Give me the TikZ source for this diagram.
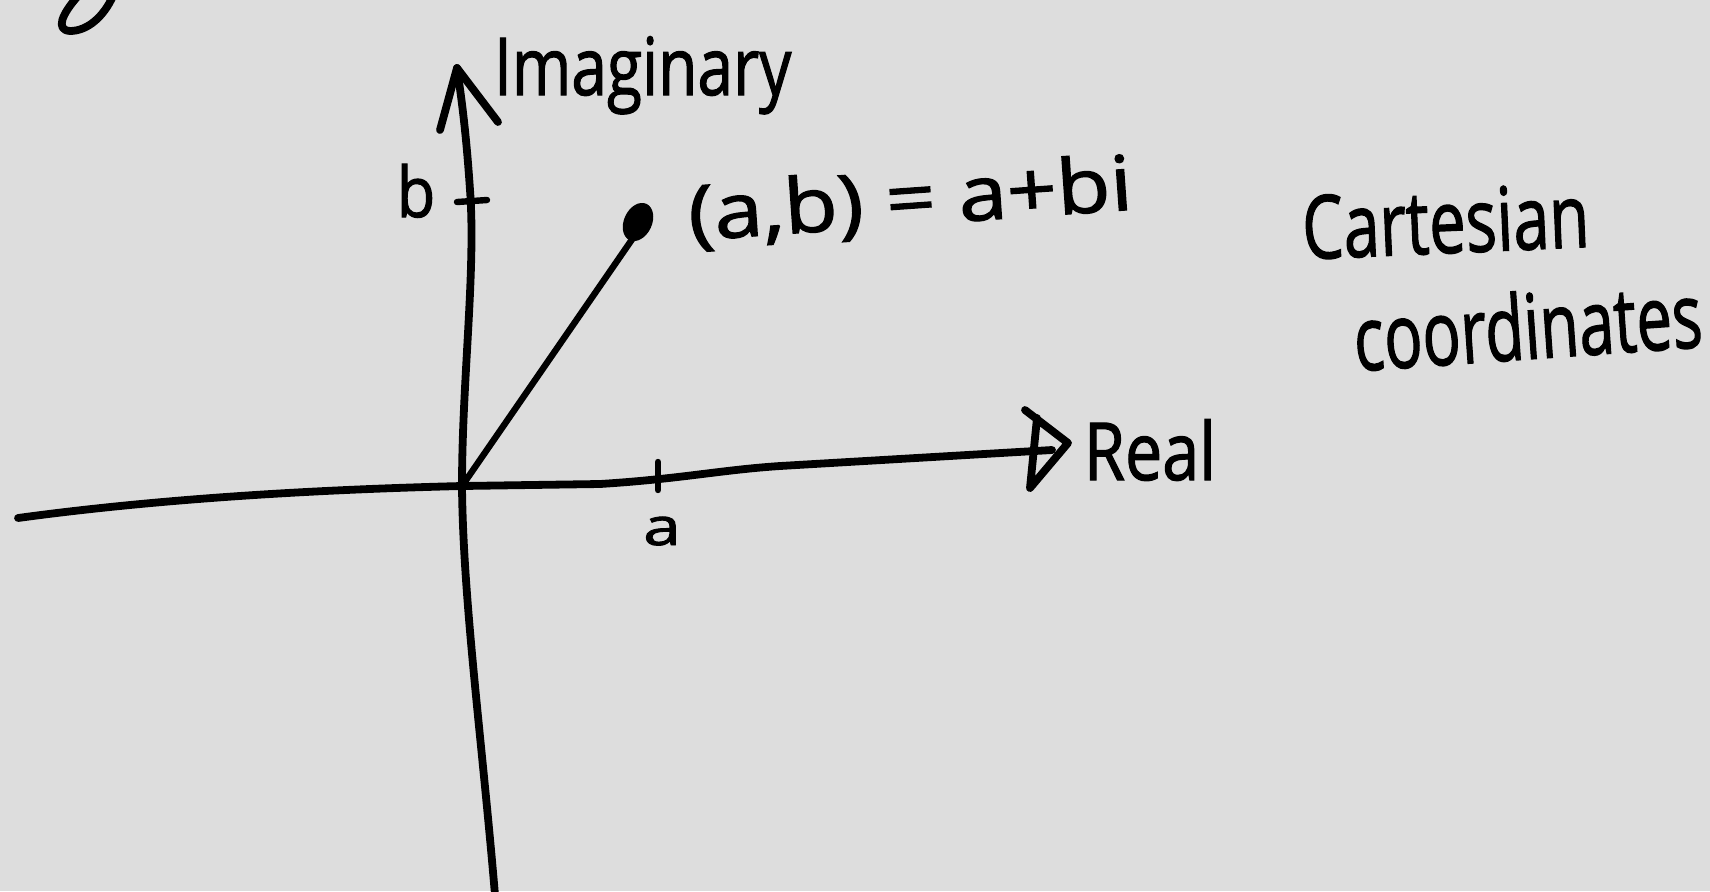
\documentclass[tikz,border=0pt]{standalone}
\usepackage{graphicx}
\usepackage{fontspec}
\setmainfont{Open Sans}[FakeBold=1.6]
\definecolor{paper}{RGB}{221,221,221}
\begin{document}
\begin{tikzpicture}[x=0.5pt,y=-0.5pt,
  pen/.style={line width=3.9pt, line cap=round, line join=round, draw=black},
  thinpen/.style={line width=3.2pt, line cap=round, line join=round, draw=black},
  hand/.style={inner sep=0pt, outer sep=0pt, text=black}]
\fill[paper] (0,0) rectangle (1710,891);
\useasboundingbox (0,0) rectangle (1710,891);

% named points
\coordinate (O) at (462,486);
\coordinate (ytip) at (457,68);
\coordinate (ybot) at (495,895);
\coordinate (ybl) at (440,130);
\coordinate (ybr) at (498,122);
\coordinate (xleft) at (18,518);
\coordinate (xtip) at (1052,450);
\coordinate (xt1) at (1025,410);
\coordinate (xt2) at (1068,443);
\coordinate (xt3) at (1030,488);
\coordinate (xt4) at (1037,418);
\coordinate (P) at (633,238);
\coordinate (ta1) at (658,462);
\coordinate (ta2) at (658,490);
\coordinate (tb1) at (457,202);
\coordinate (tb2) at (487,200);

% stray stroke at top-left
\draw[pen] (78,-4) .. controls (62,14) and (55,30) .. (70,31) .. controls (88,31) and (104,16) .. (113,-4);

% imaginary axis
\draw[pen] (ybot) .. controls (482,740) and (463,600) .. (O)
  .. controls (462,380) and (476,270) .. (470,190)
  .. controls (466,130) and (461,95) .. (ytip);
\draw[pen] (ybl) -- (ytip) -- (ybr);

% real axis
\draw[pen] (xleft) .. controls (150,500) and (300,490) .. (O)
  -- (600,484) .. controls (680,479) and (720,470) .. (780,466) -- (xtip);
\draw[pen] (xt1) -- (xt2) -- (xt3) -- (xt4);

% ticks
\draw[thinpen] (ta1) -- (ta2);
\draw[thinpen] (tb1) -- (tb2);

% vector to the point
\draw[thinpen] (O) -- (P);
\fill[black, rotate around={-25:(638,222)}] (638,222) ellipse [x radius=14, y radius=20];

% labels
\node[hand, anchor=base west] (imag) at (494,95) {\fontsize{40pt}{40pt}\selectfont\scalebox{0.8}[1]{Imaginary}};
\node[hand, anchor=base] (blab) at (416,217) {\fontsize{35pt}{35pt}\selectfont\scalebox{0.9}[1]{b}};
\node[hand, anchor=base] (alab) at (662,545) {\fontsize{26pt}{26pt}\selectfont\scalebox{1.3}[1]{a}};
\node[hand, anchor=base west] (real) at (1084,480) {\fontsize{40pt}{40pt}\selectfont\scalebox{0.83}[1]{Real}};
\node[hand, anchor=base, rotate=4] (pt) at (912,225) {\fontsize{38pt}{38pt}\selectfont\scalebox{1.15}[1]{(a,b) = a+bi}};
\node[hand, anchor=base, rotate=2.5] (cart) at (1447,253) {\fontsize{44pt}{44pt}\selectfont\scalebox{0.74}[1]{Cartesian}};
\node[hand, anchor=base, rotate=4] (coord) at (1530,359) {\fontsize{45pt}{45pt}\selectfont\scalebox{0.705}[1]{coordinates}};
\end{tikzpicture}
\end{document}
